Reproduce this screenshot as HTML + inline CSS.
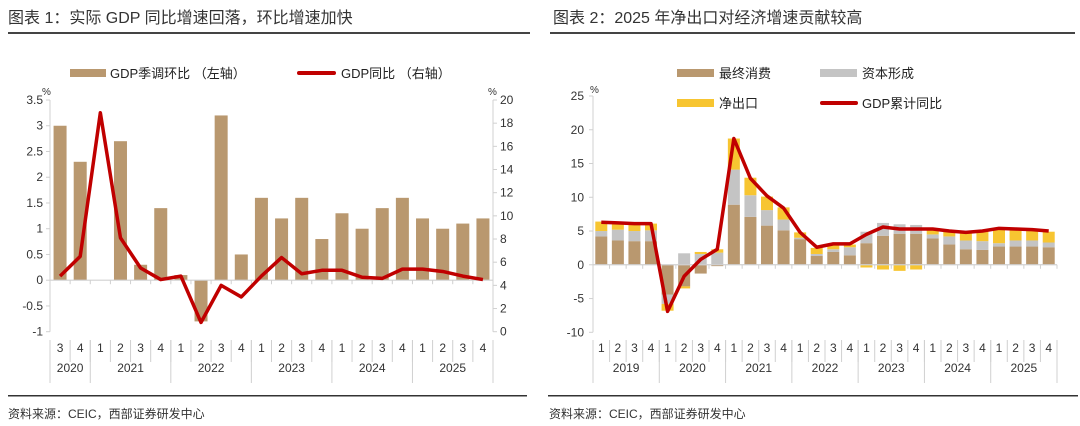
<!DOCTYPE html>
<html><head><meta charset="utf-8"><style>
body{margin:0;background:#fff;width:1080px;height:426px;overflow:hidden;font-family:"Liberation Sans","Noto Sans CJK SC",sans-serif}
svg{display:block}
</style></head><body>
<svg width="1080" height="426" xmlns="http://www.w3.org/2000/svg" font-family="Liberation Sans, Noto Sans CJK SC, sans-serif">
<text x="8" y="23" font-size="16" fill="#333">图表 1：实际 GDP 同比增速回落，环比增速加快</text>
<rect x="8" y="32" width="522" height="2" fill="#444"/>
<text x="553" y="23" font-size="16" fill="#333">图表 2：2025 年净出口对经济增速贡献较高</text>
<rect x="550" y="32" width="525" height="2" fill="#444"/>
<rect x="8" y="395" width="519" height="1.5" fill="#333"/>
<rect x="548" y="395" width="530" height="1.5" fill="#333"/>
<text x="8" y="418" font-size="12" fill="#333">资料来源：CEIC，西部证券研发中心</text>
<text x="549" y="418" font-size="12" fill="#333">资料来源：CEIC，西部证券研发中心</text>

<g>
<rect x="70" y="69" width="36" height="8" fill="#b9986f"/>
<text x="110" y="78" font-size="13" fill="#222">GDP季调环比 （左轴）</text>
<rect x="297" y="71" width="39" height="4" rx="2" fill="#c00000"/>
<text x="341" y="78" font-size="13" fill="#222">GDP同比 （右轴）</text>
</g>
<g>
<rect x="677" y="69" width="37" height="8" fill="#b9986f"/>
<text x="719" y="78" font-size="13" fill="#222">最终消费</text>
<rect x="820" y="69" width="37" height="8" fill="#c4c4c4"/>
<text x="862" y="78" font-size="13" fill="#222">资本形成</text>
<rect x="677" y="99" width="37" height="8" fill="#f7c531"/>
<text x="719" y="108" font-size="13" fill="#222">净出口</text>
<rect x="820" y="101" width="38" height="4" rx="2" fill="#c00000"/>
<text x="862" y="108" font-size="13" fill="#222">GDP累计同比</text>
</g>
<g id="left"></g>
<g id="right"></g>
</svg>
<script>
const leftQuarters=["3","4","1","2","3","4","1","2","3","4","1","2","3","4","1","2","3","4","1","2","3","4"];
const leftYears=[["2020",2],["2021",4],["2022",4],["2023",4],["2024",4],["2025",4]];
const qoqValues=[3.0,2.3,0.0,2.7,0.3,1.4,0.1,-0.8,3.2,0.5,1.6,1.2,1.6,0.8,1.3,1.0,1.4,1.6,1.2,1.0,1.1,1.2];
const yoyValues=[4.8,6.5,18.9,8.1,5.5,4.5,4.8,0.8,4.0,3.0,4.8,6.4,5.0,5.3,5.3,4.7,4.6,5.4,5.4,5.2,4.8,4.5];
const leftTicks=[3.5,3,2.5,2,1.5,1,0.5,0,-0.5,-1];
const rightTicksL=[20,18,16,14,12,10,8,6,4,2,0];

const rightQuarters=["1","2","3","4","1","2","3","4","1","2","3","4","1","2","3","4","1","2","3","4","1","2","3","4","1","2","3","4"];
const rightYears=[["2019",4],["2020",4],["2021",4],["2022",4],["2023",4],["2024",4],["2025",4]];
const consumption=[4.2,3.6,3.5,3.5,-4.4,-3.2,-1.3,-0.2,8.9,7.1,5.8,5.1,3.8,1.3,1.9,1.4,3.2,4.3,4.6,4.6,3.9,3.0,2.3,2.2,2.7,2.7,2.7,2.6];
const capital=[0.8,1.6,1.5,1.6,-1.4,1.7,1.6,1.8,5.2,3.2,2.3,1.6,0.2,0.3,0.4,1.2,1.7,1.9,1.4,1.3,0.6,1.2,1.3,1.3,0.5,0.9,0.9,0.7];
const netExports=[1.4,0.9,1.0,1.0,-1.0,-0.3,0.3,0.5,4.6,2.6,2.0,1.8,0.8,0.9,0.7,0.4,-0.4,-0.7,-0.9,-0.7,0.8,0.8,1.2,1.5,2.2,1.7,1.6,1.6];
const cumGdp=[6.3,6.2,6.1,6.1,-6.9,-1.7,0.8,2.3,18.7,12.8,10.2,8.4,4.8,2.6,3.1,3.1,4.5,5.6,5.3,5.3,5.3,5.0,4.8,5.0,5.4,5.3,5.2,5.0];
const rightTicks=[25,20,15,10,5,0,-5,-10];

const NS="http://www.w3.org/2000/svg";
function mk(parent,tag,attrs){const e=document.createElementNS(NS,tag);for(const k in attrs)e.setAttribute(k,attrs[k]);parent.appendChild(e);return e;}
const AX="#d0d0d0";

function xAxis(g,x0,x1,n,zeroY,botTop,quarters,years){
  const w=(x1-x0)/n;
  const ax=mk(g,'line',{x1:x0,x2:x1,y1:zeroY,y2:zeroY,stroke:AX,'stroke-width':1.2});
  
  for(let i=0;i<=n;i++){const x=x0+i*w;
    const t=mk(g,'line',{x1:x,x2:x,y1:zeroY,y2:zeroY+4,stroke:AX});
    
    const s=mk(g,'line',{x1:x,x2:x,y1:botTop,y2:botTop+22,stroke:AX});
    }
  quarters.forEach((q,i)=>{const t=mk(g,'text',{x:x0+(i+0.5)*w,y:352,'font-size':12,'text-anchor':'middle',fill:'#333'});t.textContent=q;
    });
  let c=0;
  years.forEach(([y,k])=>{const t=mk(g,'text',{x:x0+(c+k/2)*w,y:372,'font-size':12,'text-anchor':'middle',fill:'#333'});t.textContent=y;
    
    c+=k;const x=x0+c*w;const s=mk(g,'line',{x1:x,x2:x,y1:botTop,y2:botTop+43,stroke:AX});
    });
  const s0=mk(g,'line',{x1:x0,x2:x0,y1:botTop,y2:botTop+43,stroke:AX});
  
}

// LEFT chart
(function(){
  const g=document.getElementById('left');
  const x0=50,x1=493,top=100,bot=331.7,n=qoqValues.length,w=(x1-x0)/n;
  const yL=v=>top+(3.5-v)/4.5*(bot-top);
  const yR=v=>top+(20-v)/20*(bot-top);
  const xc=i=>x0+(i+0.5)*w;
  const la=mk(g,'line',{x1:x0,x2:x0,y1:top,y2:bot,stroke:AX});
  const ra=mk(g,'line',{x1:x1,x2:x1,y1:top,y2:bot,stroke:AX});
  leftTicks.forEach(v=>{const y=yL(v);mk(g,'line',{x1:x0-4,x2:x0,y1:y,y2:y,stroke:AX});
    const t=mk(g,'text',{x:43,y:y+4,'font-size':12,'text-anchor':'end',fill:'#333'});t.textContent=v;
    });
  rightTicksL.forEach(v=>{const y=yR(v);mk(g,'line',{x1:x1,x2:x1+4,y1:y,y2:y,stroke:AX});
    const t=mk(g,'text',{x:500,y:y+4,'font-size':12,fill:'#333'});t.textContent=v;
    });
  const p1=mk(g,'text',{x:42,y:95,'font-size':10,fill:'#333'});p1.textContent='%';
  const p2=mk(g,'text',{x:488,y:95,'font-size':10,fill:'#333'});p2.textContent='%';
  qoqValues.forEach((v,i)=>{const y0=yL(0),y=yL(v);
    const r=mk(g,'rect',{x:xc(i)-6.5,y:Math.min(y,y0),width:13,height:Math.abs(y-y0),fill:'#b9986f'});
    });
  xAxis(g,x0,x1,n,yL(0),340,leftQuarters,leftYears);
  const pl=mk(g,'polyline',{points:yoyValues.map((v,i)=>xc(i)+','+yR(v)).join(' '),fill:'none',stroke:'#c00000','stroke-width':3.5,'stroke-linejoin':'round'});
  
})();

// RIGHT chart
(function(){
  const g=document.getElementById('right');
  const x0=593,x1=1057,top=96,bot=332.3,n=cumGdp.length,w=(x1-x0)/n;
  const y=v=>top+(25-v)/35*(bot-top);
  const xc=i=>x0+(i+0.5)*w;
  const la=mk(g,'line',{x1:x0,x2:x0,y1:top,y2:bot,stroke:AX});
  rightTicks.forEach(v=>{const yy=y(v);mk(g,'line',{x1:x0-4,x2:x0,y1:yy,y2:yy,stroke:AX});
    const t=mk(g,'text',{x:584,y:yy+4,'font-size':12,'text-anchor':'end',fill:'#333'});t.textContent=v;
    });
  const p=mk(g,'text',{x:590,y:93,'font-size':10,fill:'#333'});p.textContent='%';
  const series=[[consumption,'#b9986f','bar-consumption'],[capital,'#c4c4c4','bar-capital'],[netExports,'#f7c531','bar-net-exports']];
  for(let i=0;i<n;i++){let pos=0,neg=0;
    series.forEach(([arr,col,name])=>{const v=arr[i];let a,b;
      if(v>=0){a=pos;b=pos+v;pos=b;}else{a=neg;b=neg+v;neg=b;}
      const r=mk(g,'rect',{x:xc(i)-6,y:Math.min(y(a),y(b)),width:12,height:Math.abs(y(a)-y(b)),fill:col});
      });}
  xAxis(g,x0,x1,n,y(0),340,rightQuarters,rightYears);
  const pl=mk(g,'polyline',{points:cumGdp.map((v,i)=>xc(i)+','+y(v)).join(' '),fill:'none',stroke:'#c00000','stroke-width':3.5,'stroke-linejoin':'round'});
  
})();
</script>
</body></html>
